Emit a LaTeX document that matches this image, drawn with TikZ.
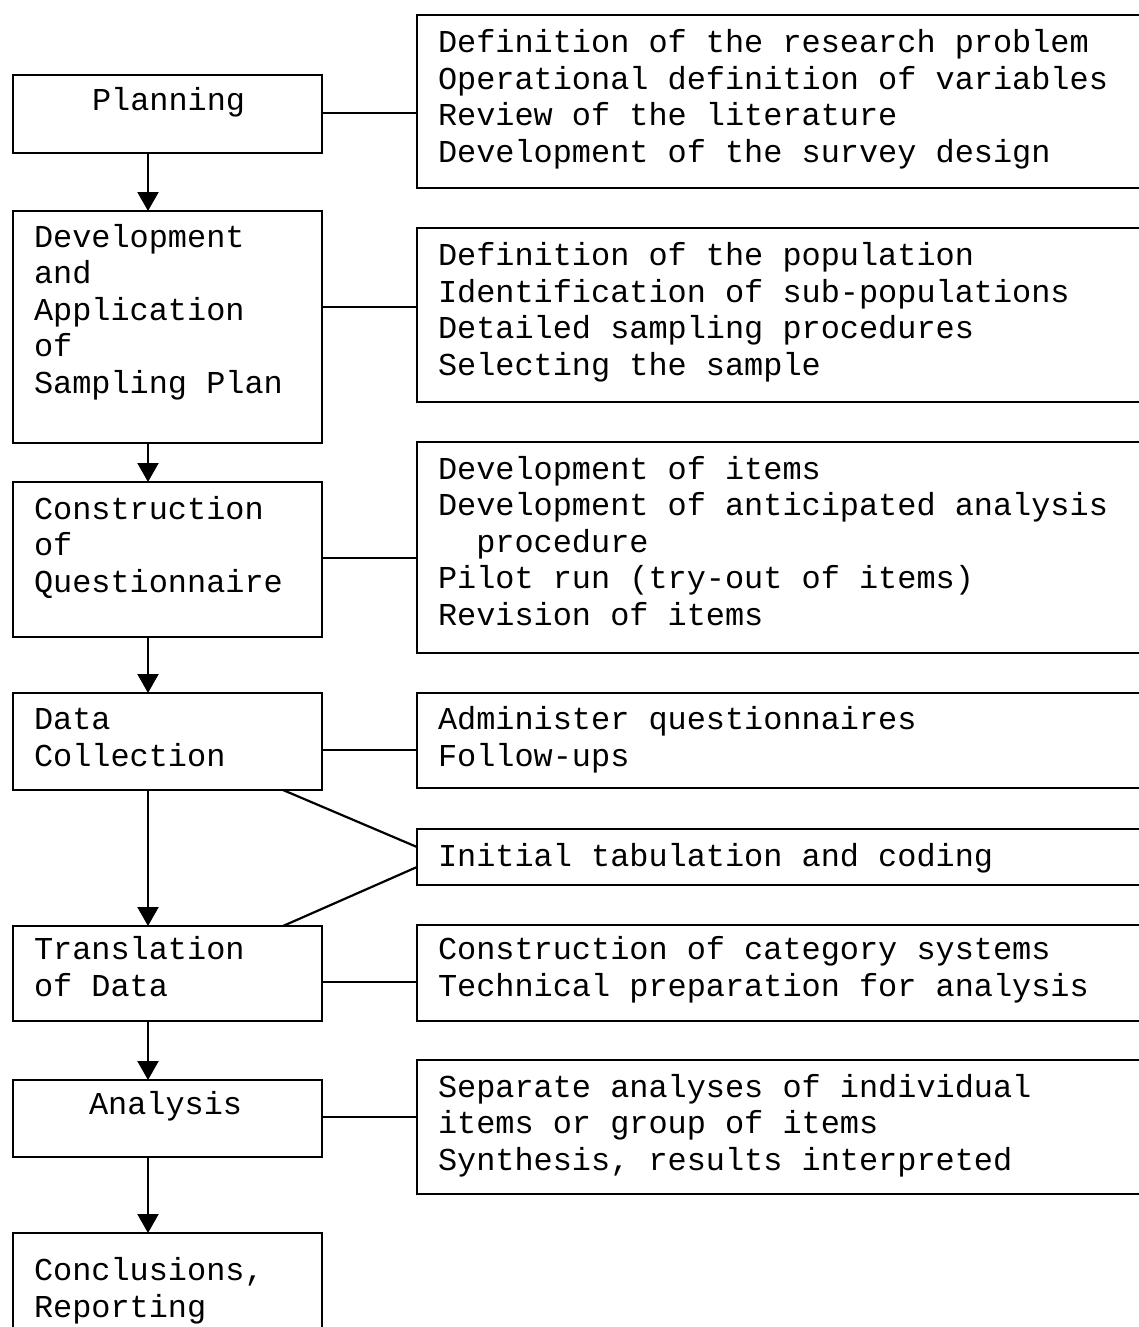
\documentclass[tikz,border=0pt]{standalone}
\usepackage{fontspec}
\setmainfont{Liberation Mono}[WordSpace={1,0,0}]
\usetikzlibrary{arrows.meta,calc}
\begin{document}
\begin{tikzpicture}[x=1pt,y=-1pt,
  box/.style={draw,line width=2.2pt,inner sep=0pt,outer sep=0pt},
  lbox/.style={box,minimum width=309pt},
  rbox/.style={box,minimum width=743pt},
  txt/.style={anchor=base west,inner sep=0pt,outer sep=0pt,align=left,
    font=\fontsize{31.9}{36.5}\selectfont},
  arr/.style={line width=2.2pt,-{Triangle[width=21pt,length=19pt]}},
  con/.style={line width=2.2pt}]
\useasboundingbox (0,0) rectangle (1139,1327);
\clip (0,0) rectangle (1139,1327);
\fill[white] (0,0) rectangle (1139,1327);
% left boxes
\node[lbox,minimum height=78pt]  (plan)  at (167.5,114) {};
\node[lbox,minimum height=232pt] (dev)   at (167.5,327) {};
\node[lbox,minimum height=155pt] (cons)  at (167.5,559.5) {};
\node[lbox,minimum height=97pt]  (dc)    at (167.5,741.5) {};
\node[lbox,minimum height=95pt]  (trans) at (167.5,973.5) {};
\node[lbox,minimum height=77pt]  (anal)  at (167.5,1118.5) {};
\node[lbox,minimum height=127pt] (concl) at (167.5,1296.5) {};
% right boxes
\node[rbox,minimum height=173pt] (r1) at (788.5,101.5) {};
\node[rbox,minimum height=174pt] (r2) at (788.5,315) {};
\node[rbox,minimum height=211pt] (r3) at (788.5,547.5) {};
\node[rbox,minimum height=95pt]  (r4) at (788.5,740.5) {};
\node[rbox,minimum height=56pt]  (r5) at (788.5,857) {};
\node[rbox,minimum height=96pt]  (r6) at (788.5,973) {};
\node[rbox,minimum height=134pt] (r7) at (788.5,1127) {};
% left texts (anchored at the baseline of the last line)
\node[txt] (tplan)  at (92,111) {Planning};
\node[txt] (tdev)   at (34,393) {Development\\and\\Application\\of\\Sampling Plan};
\node[txt] (tcons)  at (34,592) {Construction\\of\\Questionnaire};
\node[txt] (tdc)    at (34,766) {Data\\Collection};
\node[txt] (ttrans) at (34,996) {Translation\\of Data};
\node[txt] (tanal)  at (89,1114) {Analysis};
\node[txt] (tconcl) at (34,1317) {Conclusions,\\Reporting};
% right texts
\node[txt] (tr1) at (438,162) {Definition of the research problem\\Operational definition of variables\\Review of the literature\\Development of the survey design};
\node[txt] (tr2) at (438,375) {Definition of the population\\Identification of sub-populations\\Detailed sampling procedures\\Selecting the sample};
\node[txt] (tr3) at (438,625) {Development of items\\Development of anticipated analysis\\\hphantom{xx}procedure\\Pilot run (try-out of items)\\Revision of items};
\node[txt] (tr4) at (438,766) {Administer questionnaires\\Follow-ups};
\node[txt] (tr5) at (438,866) {Initial tabulation and coding};
\node[txt] (tr6) at (438,996) {Construction of category systems\\Technical preparation for analysis};
\node[txt] (tr7) at (438,1170) {Separate analyses of individual\\items or group of items\\Synthesis, results interpreted};
% helper coordinates
\coordinate (ax) at (148,0);
\coordinate (dx) at (283,0);
\coordinate (y1) at (0,113);
\coordinate (y2) at (0,307);
\coordinate (y3) at (0,558);
\coordinate (y4) at (0,750);
\coordinate (y6) at (0,982);
\coordinate (y7) at (0,1117);
% arrows
\draw[arr] (ax |- plan.south) -- (ax |- dev.north);
\draw[arr] (ax |- dev.south) -- (ax |- cons.north);
\draw[arr] (ax |- cons.south) -- (ax |- dc.north);
\draw[arr] (ax |- dc.south) -- (ax |- trans.north);
\draw[arr] (ax |- trans.south) -- (ax |- anal.north);
\draw[arr] (ax |- anal.south) -- (ax |- concl.north);
% connectors
\draw[con] (plan.east |- y1) -- (r1.west |- y1);
\draw[con] (dev.east |- y2) -- (r2.west |- y2);
\draw[con] (cons.east |- y3) -- (r3.west |- y3);
\draw[con] (dc.east |- y4) -- (r4.west |- y4);
\draw[con] (trans.east |- y6) -- (r6.west |- y6);
\draw[con] (anal.east |- y7) -- (r7.west |- y7);
\draw[con] (dx |- dc.south) -- ($(r5.west)+(0,-10)$);
\draw[con] (dx |- trans.north) -- ($(r5.west)+(0,10)$);
\end{tikzpicture}
\end{document}
